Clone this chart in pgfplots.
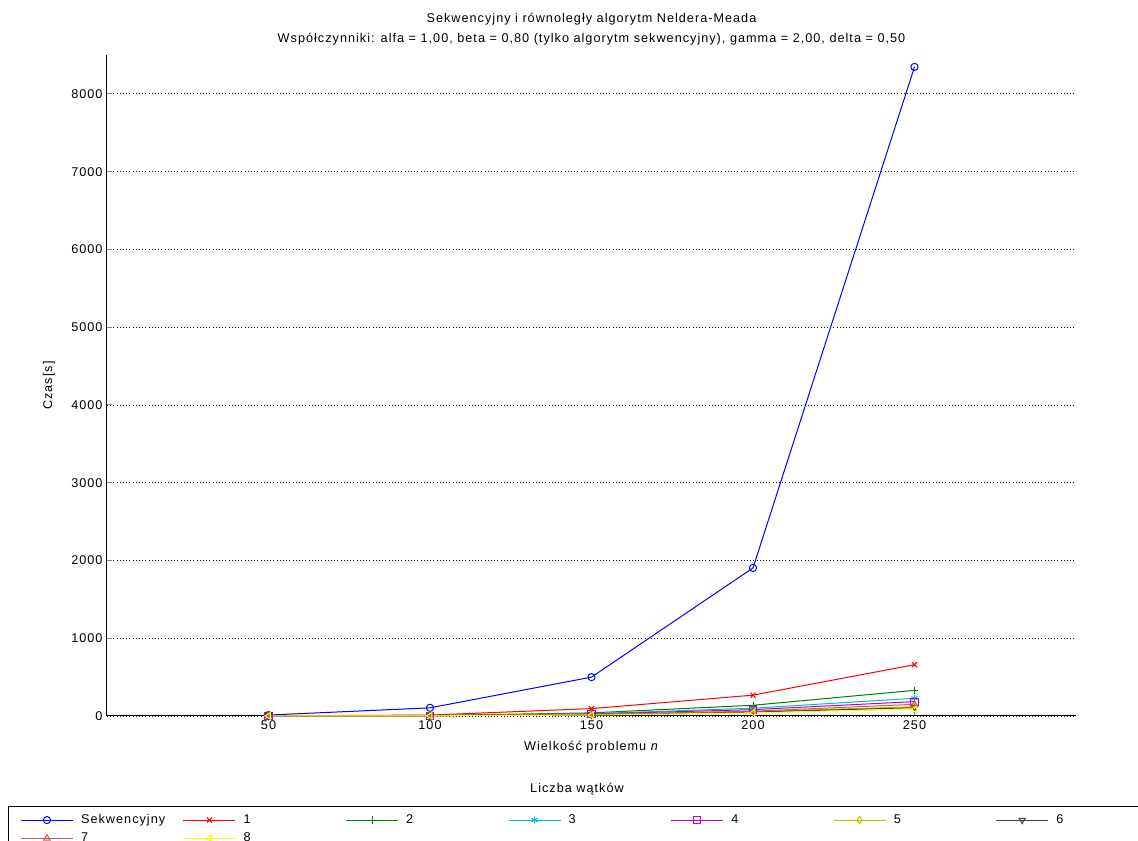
\documentclass[border=0pt]{standalone}
\usepackage{pgfplots}
\pgfplotsset{compat=1.18}
\usepackage{fontspec}
\setmainfont{Liberation Sans}[LetterSpace=8]
\definecolor{mblue}{rgb}{0,0,1}
\definecolor{mred}{rgb}{1,0,0}
\definecolor{mgreen}{rgb}{0,0.5,0}
\definecolor{mcyan}{rgb}{0,0.75,0.75}
\definecolor{mmag}{rgb}{0.75,0,0.75}
\definecolor{molive}{rgb}{0.75,0.75,0}
\definecolor{mgrey}{rgb}{0.25,0.25,0.25}
\definecolor{mrose}{rgb}{0.8,0.35,0.35}
\definecolor{myellow}{rgb}{1,1,0}
\newcommand{\lb}[1]{\makebox[74.4pt][l]{#1}}
\newcommand{\ff}{\fontsize{9.5}{11}\selectfont}
\begin{document}
\ff
\begin{tikzpicture}[x=1pt,y=1pt]
\useasboundingbox (0,0) rectangle (853.5,630.75);
\begin{axis}[
  at={(80.25pt,93.75pt)}, anchor=south west,
  scale only axis, width=726.75pt, height=495.75pt,
  xmin=0, xmax=300, ymin=0, ymax=8500,
  clip=false,
  axis lines=left, axis line style={-, line width=0.75pt},
  tick align=inside, major tick length=4pt,
  major tick style={line width=0.75pt},
  xtick={50,100,150,200,250},
  ytick={0,1000,2000,3000,4000,5000,6000,7000,8000},
  ymajorgrids, grid style={dotted, black, line width=0.6pt},
  tick label style={font=\ff},
  /pgf/number format/assume math mode=true,
  scaled y ticks=false,
  yticklabel style={/pgf/number format/1000 sep={}},
  title={Sekwencyjny i równoległy algorytm Neldera-Meada\\Współczynniki: alfa = 1,00, beta = 0,80 (tylko algorytm sekwencyjny), gamma = 2,00, delta = 0,50},
  title style={align=center, font=\fontsize{9.5}{15}\selectfont, at={(0.5,1)}, anchor=south, yshift=-2pt},
  xlabel={Wielkość problemu \textit{n}},
  ylabel={Czas[s]},
  xlabel style={at={(0.5,0)}, anchor=center, yshift=-23.5pt},
  ylabel style={at={(-0.0599,0.5)}, anchor=center, rotate=0},
  label style={font=\ff},
  legend columns=7,
  legend cell align=left,
  legend image code/.code={
    \draw[mark repeat=2, mark phase=2, #1] plot coordinates {(0pt,0pt) (19.5pt,0pt) (39pt,0pt)};
  },
  legend style={
    at={(-0.1022,-0.1362)}, anchor=north west,
    draw=black, line width=0.75pt, inner xsep=9pt, inner ysep=4pt,
    font=\ff,
    row sep=1.5pt,
    /tikz/every odd column/.style={column sep=3.75pt},
    /tikz/every even column/.style={column sep=0pt},
  },
  every axis plot/.append style={line width=0.75pt},
  mark size=2.7pt,
]
\addplot[color=mblue, mark=o] coordinates {(50,12) (100,105) (150,500) (200,1904) (250,8347)};
\addplot[color=mred, mark=x] coordinates {(50,2) (100,12) (150,95) (200,268) (250,660)};
\addplot[color=mgreen, mark=+] coordinates {(50,1) (100,6) (150,40) (200,138) (250,330)};
\addplot[color=mcyan, mark=asterisk] coordinates {(50,1) (100,5) (150,30) (200,100) (250,228)};
\addplot[color=mmag, mark=square] coordinates {(50,1) (100,4) (150,25) (200,82) (250,185)};
\addplot[color=molive, mark=diamond] coordinates {(50,1) (100,3) (150,18) (200,55) (250,120)};
\addplot[color=mgrey, mark=triangle, mark options={rotate=180}] coordinates {(50,1) (100,3) (150,16) (200,50) (250,107)};
\addplot[color=mrose, mark=triangle] coordinates {(50,1) (100,4) (150,20) (200,62) (250,150)};
\addplot[color=myellow, mark=triangle, mark options={rotate=90}] coordinates {(50,1) (100,2) (150,12) (200,40) (250,86)};
\legend{\lb{Sekwencyjny},\lb{1},\lb{2},\lb{3},\lb{4},\lb{5},\lb{6},\lb{7},\lb{8}}
\node[font=\ff] at (axis description cs:0.485,-0.1104) {Liczba wątków};
\end{axis}
\end{tikzpicture}
\end{document}
